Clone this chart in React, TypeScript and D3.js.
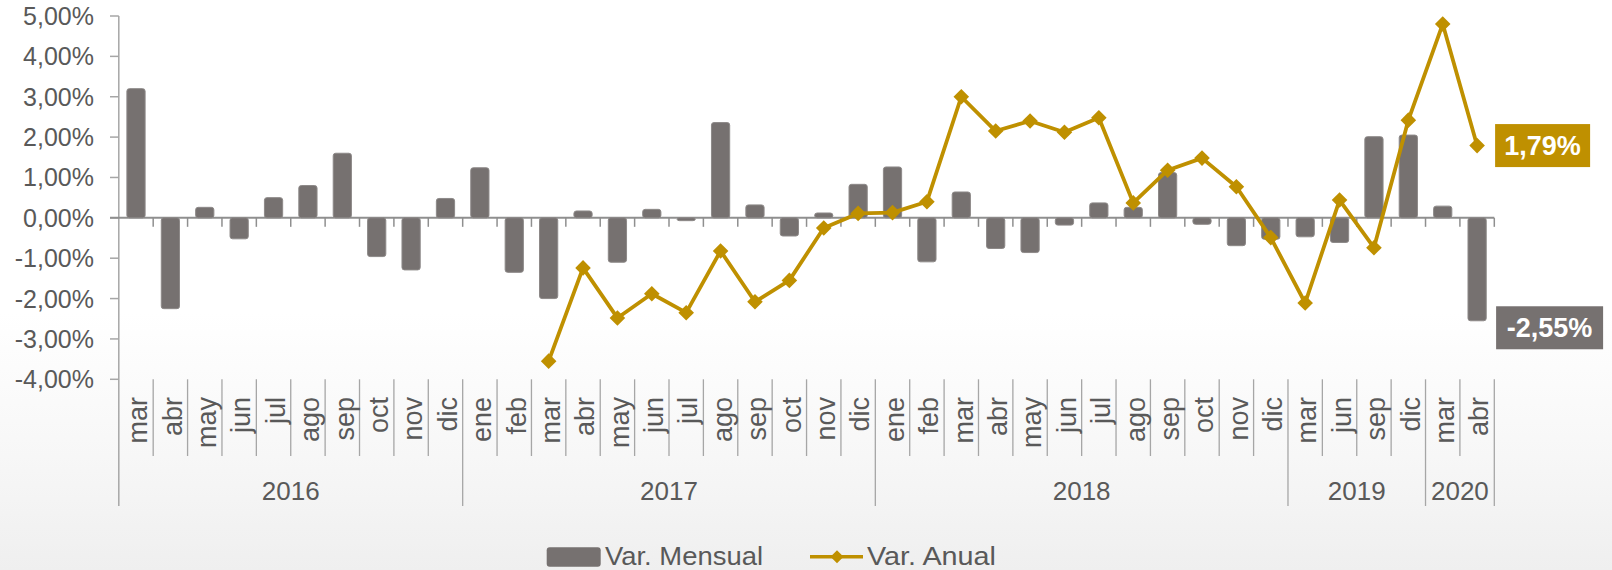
import React from "react";
import * as d3 from "d3";

const months = [
  "mar","abr","may","jun","jul","ago","sep","oct","nov","dic",
  "ene","feb","mar","abr","may","jun","jul","ago","sep","oct","nov","dic",
  "ene","feb","mar","abr","may","jun","jul","ago","sep","oct","nov","dic",
  "mar","jun","sep","dic",
  "mar","abr",
];
const years = ["2016", "2017", "2018", "2019", "2020"];
const yearCounts = [10, 12, 12, 4, 2];

const varMensual = [
  3.2, -2.25, 0.26, -0.52, 0.5, 0.8, 1.6, -0.96, -1.29, 0.48,
  1.24, -1.35, -2.0, 0.17, -1.1, 0.21, -0.07, 2.36, 0.32, -0.45, 0.12, 0.83,
  1.26, -1.09, 0.64, -0.76, -0.86, -0.18, 0.37, 0.26, 1.12, -0.16, -0.69, -0.53,
  -0.47, -0.61, 2.01, 2.05,
  0.29, -2.55,
];
const varAnual: (number | null)[] = [
  null, null, null, null, null, null, null, null, null, null,
  null, null, -3.55, -1.24, -2.48, -1.88, -2.35, -0.82, -2.08, -1.55, -0.25, 0.11,
  0.13, 0.4, 3.0, 2.15, 2.4, 2.12, 2.48, 0.37, 1.18, 1.48, 0.77, -0.49,
  -2.11, 0.44, -0.74, 2.42,
  4.8, 1.79,
];
const yTicks = [5, 4, 3, 2, 1, 0, -1, -2, -3, -4];
const seriesNames = ["Var. Mensual", "Var. Anual"];

const W = 1612;
const H = 570;
const BAR = "#767170";
const GOLD = "#BF9000";
const TXT = "#595959";
const AXIS = "#a6a6a6";
const FONT = "'Liberation Sans', Arial, sans-serif";

const fmt = (v: number) => v.toFixed(2).replace(".", ",") + "%";

export default function App() {
  const idx = months.map((_, i) => i);
  const x = d3.scaleBand<number>().domain(idx).range([118.8, 1494.3]).paddingInner(0).paddingOuter(0);
  const y = d3.scaleLinear().domain([-4, 5]).range([379.3, 16]);
  const bw = x.bandwidth();
  const barW = bw * 0.53;
  const cx = (i: number) => (x(i) as number) + bw / 2;
  const y0 = y(0);
  const plotBottom = y(-4);

  const line = d3
    .line<number | null>()
    .defined((d) => d !== null)
    .x((_, i) => cx(i))
    .y((d) => y(d as number));

  const diamond = (px: number, py: number, r: number) =>
    `M${px},${py - r}L${px + r},${py}L${px},${py + r}L${px - r},${py}Z`;

  const yearStarts: number[] = [];
  let acc = 0;
  yearCounts.forEach((c) => {
    yearStarts.push(acc);
    acc += c;
  });

  const lastI = months.length - 1;
  const lastAnual = varAnual[lastI] as number;
  const lastMensual = varMensual[lastI];

  return (
    <div style={{ position: "absolute", left: 0, top: 0, width: W, height: H }}>
      <svg width={W} height={H} style={{ display: "block", fontFamily: FONT }}>
        <defs>
          <linearGradient id="bg" x1="0" y1="0" x2="0" y2="1">
            <stop offset="0" stopColor="#ffffff" />
            <stop offset="0.55" stopColor="#ffffff" />
            <stop offset="0.8" stopColor="#f7f7f7" />
            <stop offset="1" stopColor="#efefef" />
          </linearGradient>
        </defs>
        <rect x={0} y={0} width={W} height={H} fill="url(#bg)" />

        {/* y axis */}
        <line x1={118.8} x2={118.8} y1={y(5)} y2={506} stroke={AXIS} strokeWidth={1.5} />
        {yTicks.map((t) => (
          <g key={t}>
            <line x1={110} x2={118.8} y1={y(t)} y2={y(t)} stroke={AXIS} strokeWidth={1.5} />
            <text x={94} y={y(t)} dy="0.36em" textAnchor="end" fontSize={25} fill={TXT}>
              {fmt(t)}
            </text>
          </g>
        ))}

        {/* zero axis */}
        <line x1={110} x2={1494.3} y1={y0} y2={y0} stroke="#8f8f8f" strokeWidth={2} />
        {idx.slice(1).concat([months.length]).map((i) => {
          const xx = i === months.length ? 1494.3 : (x(i) as number);
          return <line key={"t" + i} x1={xx} x2={xx} y1={y0} y2={y0 + 9} stroke="#8f8f8f" strokeWidth={1.5} />;
        })}

        {/* bars */}
        {varMensual.map((v, i) => {
          const top = Math.min(y(v), y0);
          const h = Math.abs(y(v) - y0);
          return (
            <rect
              key={"b" + i}
              x={cx(i) - barW / 2}
              y={top}
              width={barW}
              height={Math.max(h, 2)}
              rx={2.5}
              fill={BAR}
              stroke="#8d8988"
              strokeWidth={1}
            />
          );
        })}

        {/* line */}
        <path d={line(varAnual) || ""} fill="none" stroke={GOLD} strokeWidth={3.8} strokeLinejoin="round" />
        {varAnual.map((v, i) =>
          v === null ? null : <path key={"m" + i} d={diamond(cx(i), y(v), 7.8)} fill={GOLD} />
        )}

        {/* data labels */}
        <g>
          <rect x={cx(lastI) + 18} y={y(lastAnual) - 21.5} width={95} height={43} fill={GOLD} />
          <text
            x={cx(lastI) + 18 + 47.5}
            y={y(lastAnual)}
            dy="0.36em"
            textAnchor="middle"
            fontSize={27}
            fontWeight="bold"
            fill="#ffffff"
          >
            {fmt(lastAnual)}
          </text>
          <rect x={cx(lastI) + 19} y={y(lastMensual) - 14.5} width={107} height={43} fill={BAR} />
          <text
            x={cx(lastI) + 19 + 53.5}
            y={y(lastMensual) + 7}
            dy="0.36em"
            textAnchor="middle"
            fontSize={27}
            fontWeight="bold"
            fill="#ffffff"
          >
            {fmt(lastMensual)}
          </text>
        </g>

        {/* category separators */}
        {idx.slice(1).map((i) => {
          const isYear = yearStarts.includes(i);
          const xx = x(i) as number;
          return (
            <line
              key={"s" + i}
              x1={xx}
              x2={xx}
              y1={plotBottom}
              y2={isYear ? 506 : 456}
              stroke={AXIS}
              strokeWidth={1.3}
            />
          );
        })}
        <line x1={1494.3} x2={1494.3} y1={plotBottom} y2={506} stroke={AXIS} strokeWidth={1.3} />

        {/* month labels */}
        {months.map((m, i) => (
          <text
            key={"l" + i}
            transform={`translate(${cx(i) + 11.3},397) rotate(-90)`}
            textAnchor="end"
            fontSize={27}
            fill={TXT}
          >
            {m}
          </text>
        ))}

        {/* year labels */}
        {years.map((yr, k) => {
          const s = yearStarts[k];
          const e = s + yearCounts[k];
          const x0 = x(s) as number;
          const x1 = e >= months.length ? 1494.3 : (x(e) as number);
          return (
            <text key={yr} x={(x0 + x1) / 2} y={500} textAnchor="middle" fontSize={26} fill={TXT}>
              {yr}
            </text>
          );
        })}

        {/* legend */}
        <g>
          <rect x={546.7} y={547.3} width={54} height={19.4} rx={3} fill={BAR} />
          <text x={605} y={564.5} fontSize={25} fill={TXT} textLength={158} lengthAdjust="spacingAndGlyphs">
            {seriesNames[0]}
          </text>
          <line x1={810} x2={863} y1={556.7} y2={556.7} stroke={GOLD} strokeWidth={3.5} />
          <path d={diamond(837, 556.7, 6.5)} fill={GOLD} />
          <text x={867} y={564.5} fontSize={25} fill={TXT} textLength={129} lengthAdjust="spacingAndGlyphs">
            {seriesNames[1]}
          </text>
        </g>
      </svg>
    </div>
  );
}
